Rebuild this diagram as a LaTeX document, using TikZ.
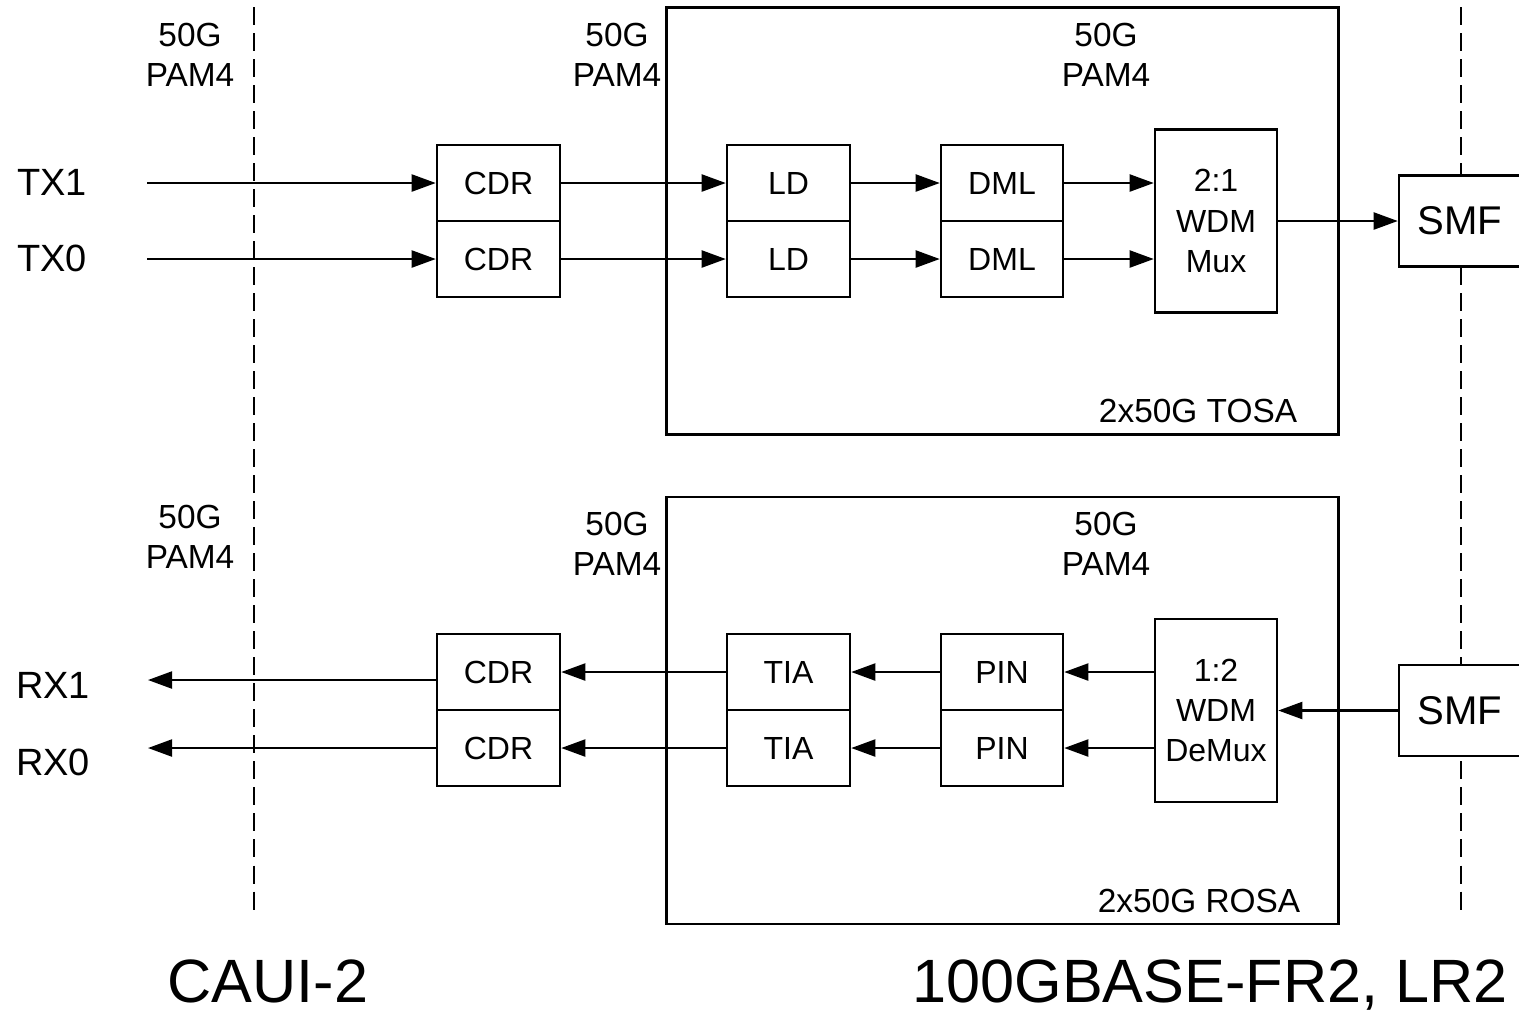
\documentclass[tikz,border=0pt]{standalone}
\usepackage{fontspec}
\setmainfont{Liberation Sans}
\usetikzlibrary{arrows.meta}
\tikzset{
  blk/.style={draw, line width=0.7pt, fill=white, minimum width=1.23cm, minimum height=0.76cm, inner sep=0pt, align=center, font=\fontsize{9.1pt}{11.4pt}\selectfont},
  tall/.style={blk, minimum height=1.83cm},
  smfbox/.style={blk, minimum width=1.22cm, minimum height=0.91cm, font=\fontsize{11.4pt}{13pt}\selectfont},
  frame/.style={draw, line width=0.7pt},
  lbl/.style={align=center, inner sep=0pt, font=\fontsize{9.5pt}{11.4pt}\selectfont},
  sig/.style={inner sep=0pt, font=\fontsize{10.8pt}{13pt}\selectfont},
  big/.style={inner sep=0pt, anchor=base, font=\fontsize{17.4pt}{20pt}\selectfont},
  conn/.style={line width=0.6pt, -{Triangle[length=0.24cm, width=0.17cm]}},
  bound/.style={line width=0.6pt, dash pattern=on 0.18cm off 0.08cm}
}
\begin{document}
\begin{tikzpicture}[x=0.01cm, y=-0.01cm]
\useasboundingbox (0,0) rectangle (1519,1011);

% dashed interface lines
\coordinate (d1t) at (254,7);
\coordinate (d1b) at (254,915);
\coordinate (d2t) at (1461,7);
\coordinate (d2b) at (1461,915);
\draw[bound] (d1t) -- (d1b);
\draw[bound] (d2t) -- (d2b);

% TOSA / ROSA frames
\node[frame, minimum width=6.72cm, minimum height=4.27cm, inner sep=0pt] (tosa) at (1002.5,221) {};
\node[frame, minimum width=6.72cm, minimum height=4.27cm, inner sep=0pt] (rosa) at (1002.5,710.5) {};

% TX path
\node[blk] (cdrt1) at (498.5,183) {CDR};
\node[blk] (cdrt0) at (498.5,259) {CDR};
\node[blk] (ld1) at (788.5,183) {LD};
\node[blk] (ld0) at (788.5,259) {LD};
\node[blk, minimum width=1.22cm] (dml1) at (1002,183) {DML};
\node[blk, minimum width=1.22cm] (dml0) at (1002,259) {DML};
\node[tall, minimum width=1.22cm] (mux) at (1216,221) {2:1\\WDM\\Mux};
\node[smfbox] (smft) at (1460,221) {SMF};

% RX path
\node[blk] (cdrr1) at (498.5,672) {CDR};
\node[blk] (cdrr0) at (498.5,748) {CDR};
\node[blk] (tia1) at (788.5,672) {TIA};
\node[blk] (tia0) at (788.5,748) {TIA};
\node[blk, minimum width=1.22cm] (pin1) at (1002,672) {PIN};
\node[blk, minimum width=1.22cm] (pin0) at (1002,748) {PIN};
\node[tall, minimum width=1.22cm] (demux) at (1216,710.5) {1:2\\WDM\\DeMux};
\node[smfbox] (smfr) at (1460,710.5) {SMF};

% signal labels
\node[sig] (tx1) at (52,182) {TX1};
\node[sig] (tx0) at (52,258) {TX0};
\node[sig] (rx1) at (53,685) {RX1};
\node[sig] (rx0) at (53,762) {RX0};
\coordinate (tx1e) at (147,183);
\coordinate (tx0e) at (147,259);
\coordinate (rx1e) at (148,680);
\coordinate (rx0e) at (148,748);

% rate labels
\node[lbl] (r1) at (190,55) {50G\\PAM4};
\node[lbl] (r2) at (617,55) {50G\\PAM4};
\node[lbl] (r3) at (1106,55) {50G\\PAM4};
\node[lbl] (r4) at (190,537) {50G\\PAM4};
\node[lbl] (r5) at (617,544) {50G\\PAM4};
\node[lbl] (r6) at (1106,544) {50G\\PAM4};
\node[lbl] (tosal) at (1198,411) {2x50G TOSA};
\node[lbl] (rosal) at (1199,901) {2x50G ROSA};

% bottom titles
\node[big] (caui) at (268,1002) {CAUI-2};
\node[big] (fr2) at (1210,1002) {100GBASE-FR2, LR2};

% TX connectors
\draw[conn] (tx1e) -- (cdrt1.west);
\draw[conn] (tx0e) -- (cdrt0.west);
\draw[conn] (cdrt1.east) -- (ld1.west);
\draw[conn] (cdrt0.east) -- (ld0.west);
\draw[conn] (ld1.east) -- (dml1.west);
\draw[conn] (ld0.east) -- (dml0.west);
\draw[conn] (dml1.east) -- (dml1.east -| mux.west);
\draw[conn] (dml0.east) -- (dml0.east -| mux.west);
\draw[conn] (mux.east) -- (smft.west);

% RX connectors
\draw[conn] (smfr.west) -- (demux.east);
\draw[conn] (pin1.east -| demux.west) -- (pin1.east);
\draw[conn] (pin0.east -| demux.west) -- (pin0.east);
\draw[conn] (pin1.west) -- (tia1.east);
\draw[conn] (pin0.west) -- (tia0.east);
\draw[conn] (tia1.west) -- (cdrr1.east);
\draw[conn] (tia0.west) -- (cdrr0.east);
\draw[conn] (rx1e -| cdrr1.west) -- (rx1e);
\draw[conn] (cdrr0.west) -- (rx0e);
\end{tikzpicture}
\end{document}
